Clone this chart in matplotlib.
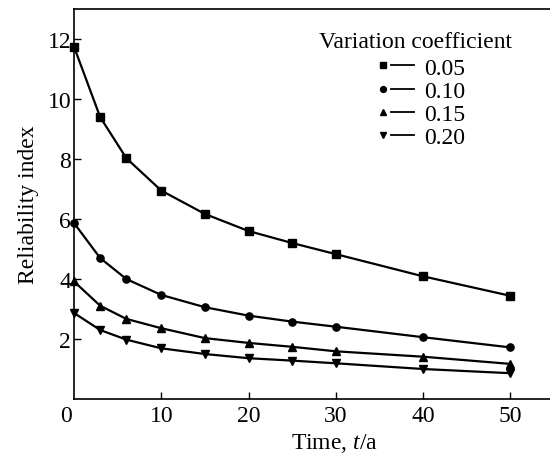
import matplotlib
matplotlib.use("Agg")
import matplotlib.pyplot as plt
from matplotlib.lines import Line2D
from matplotlib.legend_handler import HandlerBase

plt.rcParams['font.family'] = ['Liberation Serif', 'DejaVu Serif']
plt.rcParams['mathtext.fontset'] = 'custom'
plt.rcParams['mathtext.it'] = 'Liberation Serif:italic'
plt.rcParams['mathtext.rm'] = 'Liberation Serif'

time = [0, 3, 6, 10, 15, 20, 25, 30, 40, 50]
cov_labels = ["0.05", "0.10", "0.15", "0.20"]
beta_005 = [11.75, 9.4, 8.03, 6.95, 6.17, 5.6, 5.2, 4.83, 4.09, 3.44]
beta_010 = [5.87, 4.7, 4.0, 3.47, 3.06, 2.78, 2.58, 2.41, 2.06, 1.72]
beta_015 = [3.92, 3.11, 2.67, 2.36, 2.03, 1.87, 1.74, 1.59, 1.41, 1.17]
beta_020 = [2.87, 2.3, 1.98, 1.69, 1.5, 1.36, 1.28, 1.19, 1.0, 0.86]
x_ticks = [10, 20, 30, 40, 50]
y_ticks = [2, 4, 6, 8, 10, 12]

series = [beta_005, beta_010, beta_015, beta_020]
markers = ['s', 'o', '^', 'v']


class MarkerThenLine(HandlerBase):
    def create_artists(self, legend, orig_handle, xdescent, ydescent,
                       width, height, fontsize, trans):
        y = height / 2 - ydescent
        x0 = -xdescent
        mk = Line2D([x0 + 0.2 * width], [y], marker=orig_handle.get_marker(),
                    markersize=4.2, color='black', linestyle='none', transform=trans)
        ln = Line2D([x0 + 0.4 * width, x0 + width], [y, y], color='black',
                    lw=1.3, transform=trans)
        return [mk, ln]


fig = plt.figure(figsize=(5.5, 4.56), dpi=100)
ax = fig.add_axes([0.1345, 0.1228, 0.873, 0.855])

handles = []
for vals, m in zip(series, markers):
    ln, = ax.plot(time, vals, color='black', lw=1.6, marker=m, markersize=5.2, clip_on=False)
    handles.append(ln)

ax.set_xlim(0, 55)
ax.set_ylim(0, 13)
ax.set_xticks(x_ticks)
ax.set_yticks(y_ticks)
ax.tick_params(direction='in', length=5, width=1, labelsize=17, top=False, right=False)
ax.tick_params(axis='y', pad=2)
ax.tick_params(axis='x', pad=4)
for s in ax.spines.values():
    s.set_linewidth(1.2)
ax.spines['right'].set_visible(False)
ax.text(-0.005, -0.015, "0", transform=ax.transAxes, ha='right', va='top', fontsize=17)

ax.set_xlabel("Time, $t$/a", fontsize=17, labelpad=4)
ax.xaxis.label.set_x(0.542)
ax.set_ylabel("Reliability index", fontsize=17, labelpad=6)

# legend title drawn as a separate text line
ax.text((415 - 74) / 480, (400 - 42) / 390, "Variation coefficient", transform=ax.transAxes,
        ha='center', va='center', fontsize=17)

leg = ax.legend(handles, cov_labels, handler_map={Line2D: MarkerThenLine()},
                fontsize=17, loc='upper center', bbox_to_anchor=((420 - 74) / 480, (400 - 58) / 390),
                frameon=False, handlelength=1.65, handletextpad=0.4, labelspacing=0.07,
                borderaxespad=0, borderpad=0)

fig.savefig("out.png", dpi=100)
